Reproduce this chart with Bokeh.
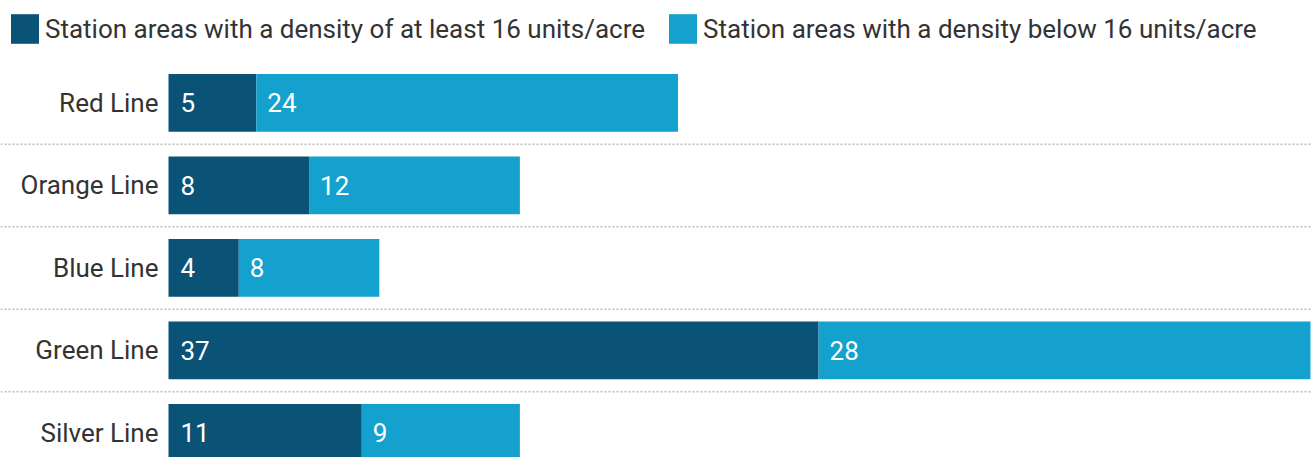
from bokeh.plotting import figure
from bokeh.models import ColumnDataSource, Range1d, Span, Legend
from bokeh.core.properties import value
from bokeh.embed import file_html
from bokeh.resources import INLINE

lines = ["Red Line", "Orange Line", "Blue Line", "Green Line", "Silver Line"]
dense = [5, 8, 4, 37, 11]
sparse = [24, 12, 8, 28, 9]
series_names = ["Station areas with a density of at least 16 units/acre",
                "Station areas with a density below 16 units/acre"]
colors = ["#0a5276", "#15a1cd"]

n = len(lines)
ypos = [n - 1 - i for i in range(n)]

src = ColumnDataSource(dict(
    y=ypos, line=lines, dense=dense, sparse=sparse,
    zero=[0] * n, dense_lbl=[str(v) for v in dense], sparse_lbl=[str(v) for v in sparse],
))

p = figure(width=1311, height=457, output_backend="svg", toolbar_location=None,
           x_range=Range1d(-9.562, 65.057), y_range=Range1d(-0.297, 5.242),
           min_border=0, min_border_left=0, min_border_right=0, min_border_top=0, min_border_bottom=0)
p.axis.visible = False
p.grid.visible = False
p.outline_line_color = None
p.background_fill_color = "white"
p.border_fill_color = "white"

for i in range(n - 1):
    p.add_layout(Span(location=i + 0.5, dimension="width", line_color="#bbbbbb",
                      line_dash="2 2", line_width=1.5))

renderers = p.hbar_stack(["dense", "sparse"], y="y", height=0.7, color=colors,
                         source=src, line_color=None)

font = value("Roboto")
p.text(x="zero", y="y", text="dense_lbl", source=src, text_color="white",
       text_font=font, text_font_size="26px", text_baseline="middle", x_offset=12)
p.text(x="dense", y="y", text="sparse_lbl", source=src, text_color="white",
       text_font=font, text_font_size="26px", text_baseline="middle", x_offset=11)
p.text(x="zero", y="y", text="line", source=src, text_color="#333333",
       text_font=font, text_font_size="26px", text_baseline="middle",
       text_align="right", x_offset=-10)

legend = Legend(items=[(series_names[0], [renderers[0]]), (series_names[1], [renderers[1]])],
                orientation="horizontal", location=(7, 410), padding=0, margin=0,
                spacing=20, glyph_width=35, glyph_height=37, label_height=37,
                label_standoff=3, label_text_font="Roboto", label_text_font_size="26px",
                label_text_color="#333333", border_line_color=None,
                background_fill_alpha=0)
p.add_layout(legend, "center")

open("out.html", "w").write(file_html(p, INLINE))
